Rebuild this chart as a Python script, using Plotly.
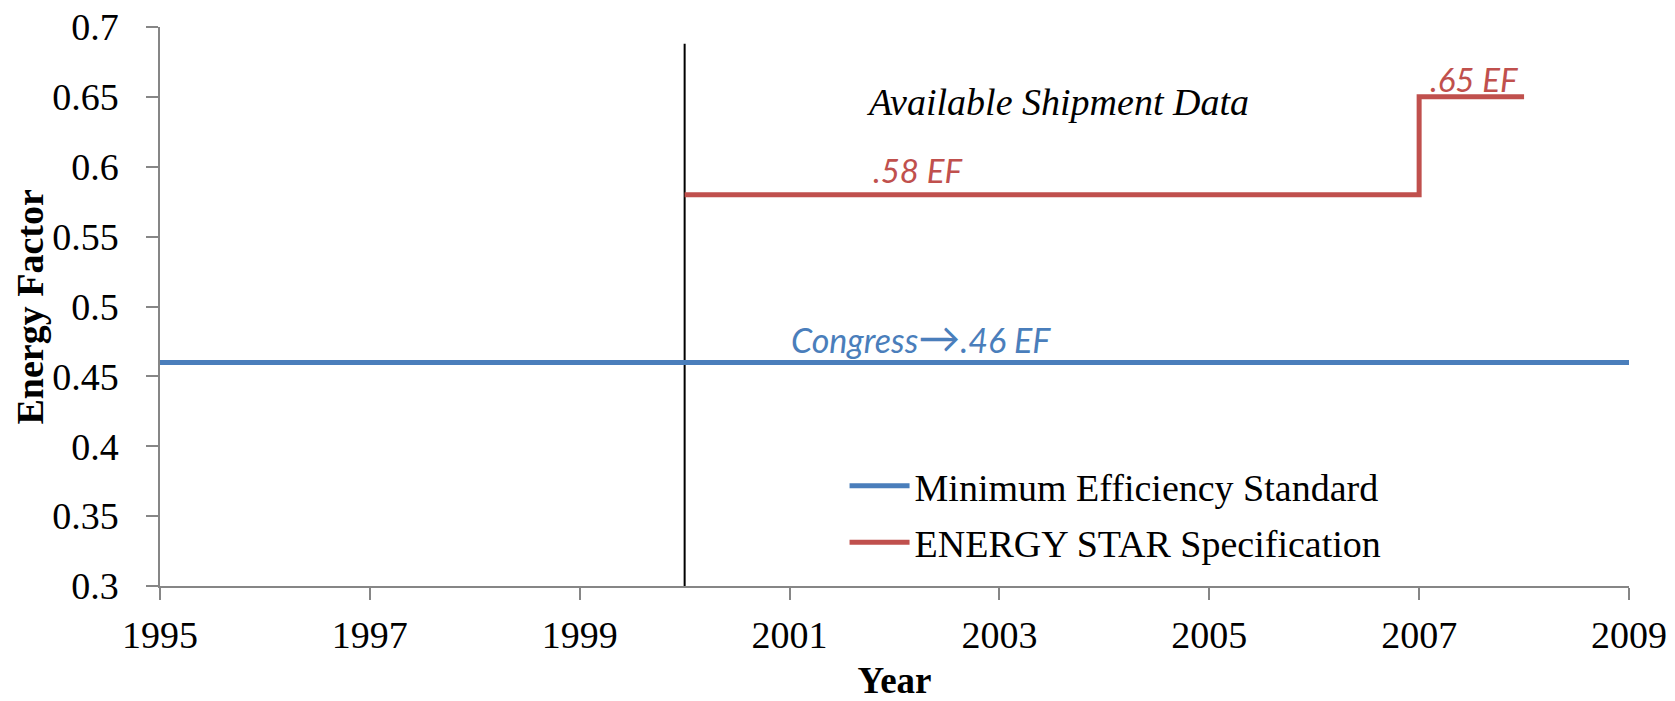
import plotly.graph_objects as go

# Data
min_std_years = [1995, 2009]
min_std_values = [0.46, 0.46]
estar_years = [2000, 2007, 2008]
estar_values = [0.58, 0.65, 0.65]
shipment_years = [2000, 2000]
shipment_values = [0.3, 0.688]
x_ticks = [1995, 1997, 1999, 2001, 2003, 2005, 2007, 2009]
y_ticks = [0.3, 0.35, 0.4, 0.45, 0.5, 0.55, 0.6, 0.65, 0.7]
y_tick_labels = ["0.3", "0.35", "0.4", "0.45", "0.5", "0.55", "0.6", "0.65", "0.7"]

BLUE = "#4A7EBB"
RED = "#C0504D"
SERIF = "Liberation Serif, DejaVu Serif, serif"
SANS = "Lato, Open Sans, sans-serif"

fig = go.Figure()
fig.add_trace(go.Scatter(x=shipment_years, y=shipment_values, mode="lines",
                         line=dict(color="black", width=2), showlegend=False,
                         hoverinfo="skip"))
fig.add_trace(go.Scatter(x=min_std_years, y=min_std_values, mode="lines",
                         name="Minimum Efficiency Standard", legendgroup="a",
                         line=dict(color=BLUE, width=5)))
fig.add_trace(go.Scatter(x=estar_years, y=estar_values, mode="lines",
                         name="ENERGY STAR Specification", legendgroup="b",
                         line=dict(color=RED, width=5, shape="hv")))

fig.add_annotation(x=2003.55, y=0.646, text="<i>Available Shipment Data</i>",
                   showarrow=False, font=dict(family=SERIF, size=38, color="black"))
fig.add_annotation(x=2001.78, y=0.598, text="<i>.58 EF</i>", xanchor="left",
                   showarrow=False, font=dict(family=SANS, size=33, color=RED))
fig.add_annotation(x=2000.99, y=0.478,
                   text="<i>Congress<span style='font-size:42px'>\u2192</span>.46 EF</i>",
                   xanchor="left", showarrow=False,
                   font=dict(family=SANS, size=34, color=BLUE))
fig.add_annotation(x=2007.08, y=0.6625, text="<i>.65 EF</i>", xanchor="left",
                   showarrow=False, font=dict(family=SANS, size=33, color=RED))
# y-axis title placed as a rotated paper annotation
fig.add_annotation(xref="paper", yref="paper", x=-0.0885, y=0.5,
                   text="<b>Energy Factor</b>", textangle=-90, showarrow=False,
                   xanchor="center", yanchor="middle",
                   font=dict(family=SERIF, size=38, color="black"))

fig.update_layout(
    width=1675, height=701,
    margin=dict(l=160, r=46, t=27, b=115),
    paper_bgcolor="white", plot_bgcolor="white",
    font=dict(family=SERIF, size=38, color="black"),
    legend=dict(x=0.466, y=0.235, xanchor="left", yanchor="top",
                bgcolor="rgba(0,0,0,0)", font=dict(family=SERIF, size=38),
                tracegroupgap=4, itemwidth=60),
    xaxis=dict(range=[1995, 2009], tickvals=x_ticks, showgrid=False, zeroline=False,
               showline=True, linecolor="#868686", linewidth=1.5, ticks="outside",
               ticklen=12, tickcolor="#868686", tickwidth=1.5, automargin=False,
               ticklabelstandoff=3, ticklabeloverflow="allow",
               title=dict(text="<b>Year</b>", font=dict(size=37), standoff=17)),
    yaxis=dict(range=[0.3, 0.7], tickvals=y_ticks, ticktext=y_tick_labels,
               showgrid=False, zeroline=False, showline=True, linecolor="#868686",
               linewidth=1.5, ticks="outside", ticklen=12, tickcolor="#868686",
               tickwidth=1.5, automargin=False, ticklabelstandoff=20,
               ticklabeloverflow="allow"),
)

# remove the default 8px page margin so the figure fills the window exactly
fig.write_html("out.html", config={"displayModeBar": False},
               post_script="document.body.style.margin='0px';")
